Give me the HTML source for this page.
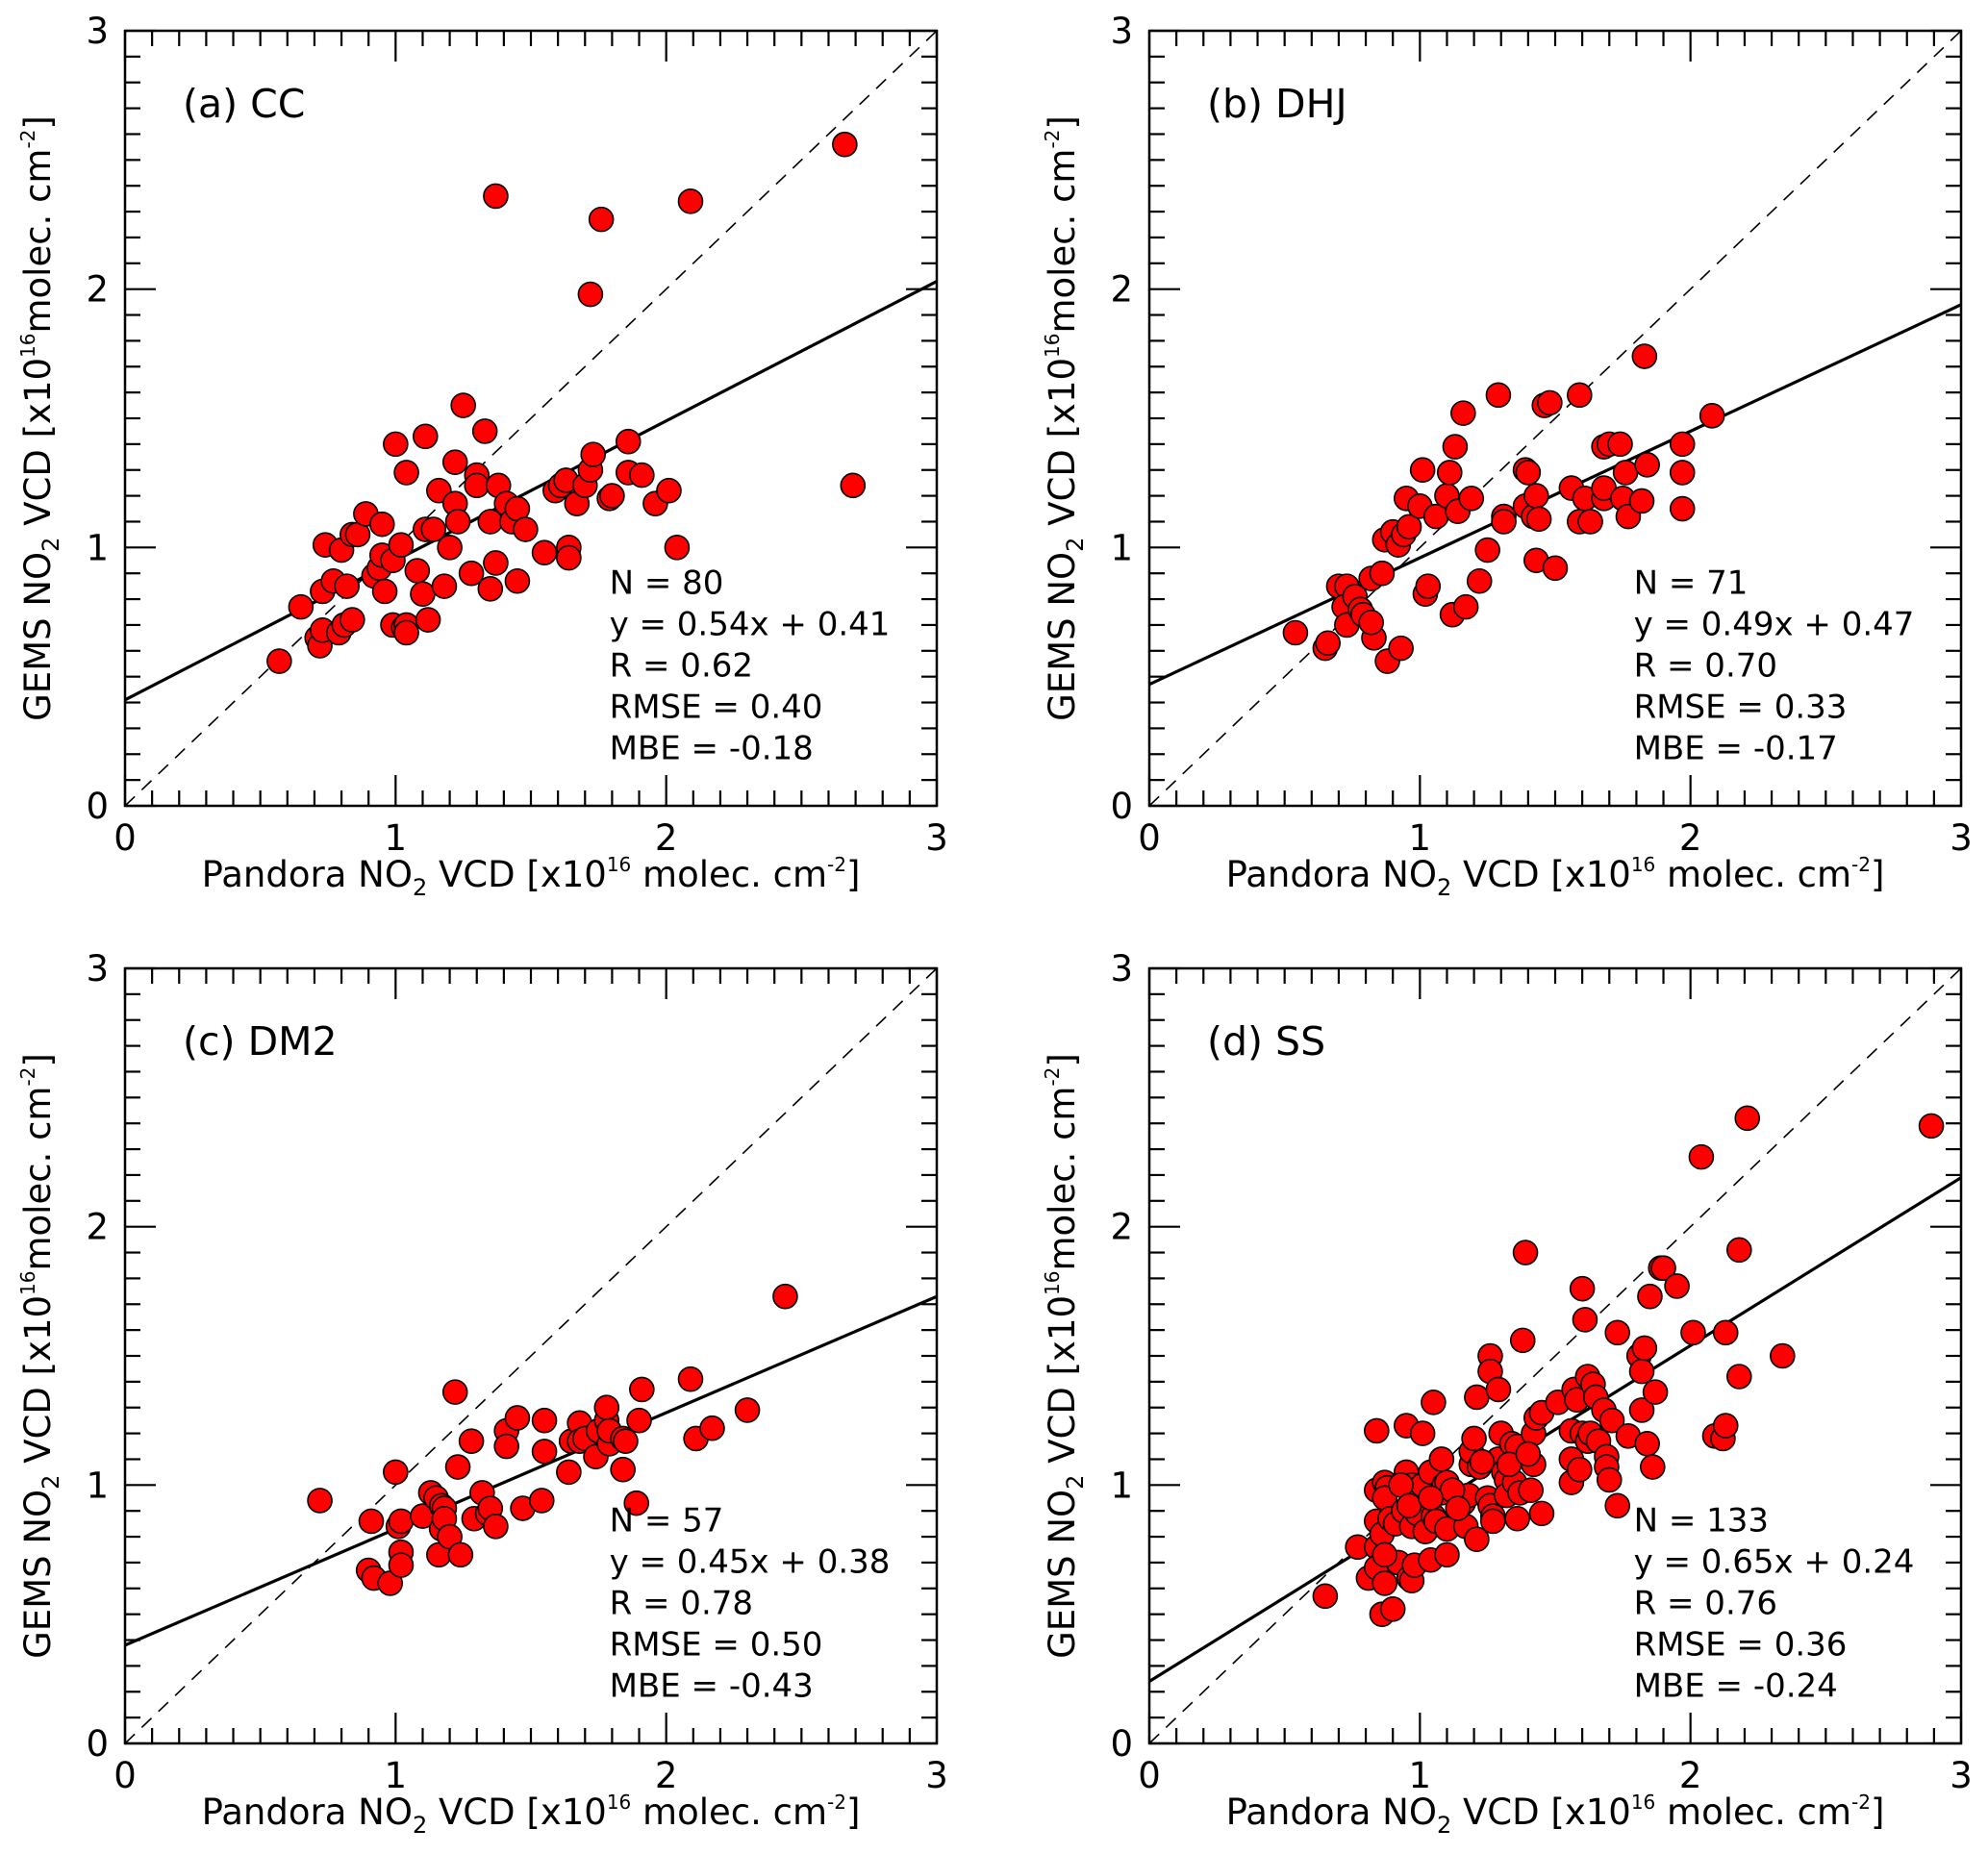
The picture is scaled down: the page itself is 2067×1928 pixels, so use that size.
<!DOCTYPE html>
<html><head><meta charset="utf-8">
<style>
html,body{margin:0;padding:0;background:#fff;}
svg{display:block;font-family:"DejaVu Sans","Liberation Sans",sans-serif;}
</style></head>
<body>
<svg id="fig" width="2067" height="1928" viewBox="0 0 2067 1928" xmlns="http://www.w3.org/2000/svg"></svg>
<script>
// Panel (a) CC
const ccX=[0.57,0.65,0.71,0.72,0.73,0.74,0.73,0.77,0.79,0.80,0.82,0.81,0.84,0.84,0.86,0.89,0.92,0.94,0.95,0.96,0.95,0.99,1.00,0.99,1.02,1.04,1.03,1.04,1.04,1.08,1.11,1.10,1.12,1.11,1.14,1.16,1.18,1.20,1.22,1.22,1.23,1.25,1.28,1.30,1.30,1.33,1.35,1.35,1.37,1.37,1.38,1.41,1.43,1.45,1.45,1.48,1.55,1.59,1.61,1.63,1.64,1.64,1.67,1.70,1.72,1.72,1.73,1.76,1.79,1.80,1.86,1.86,1.91,1.96,2.01,2.04,2.09,2.66,2.69];
const ccY=[0.56,0.77,0.65,0.62,0.68,1.01,0.83,0.87,0.67,0.99,0.85,0.70,0.72,1.05,1.05,1.13,0.89,0.92,1.09,0.83,0.97,0.95,1.40,0.70,1.01,1.29,0.69,0.70,0.67,0.91,1.43,0.82,0.72,1.07,1.07,1.22,0.85,1.00,1.17,1.33,1.10,1.55,0.90,1.28,1.24,1.45,0.84,1.10,0.94,2.36,1.24,1.17,1.10,0.87,1.15,1.07,0.98,1.22,1.24,1.26,1.00,0.96,1.17,1.24,1.98,1.30,1.36,2.27,1.19,1.20,1.41,1.29,1.28,1.17,1.22,1.00,2.34,2.56,1.24];
// Panel (b) DHJ
const dhjX=[0.54,0.65,0.66,0.70,0.73,0.72,0.73,0.76,0.78,0.79,0.82,0.83,0.82,0.86,0.87,0.88,0.90,0.92,0.93,0.94,0.95,0.96,1.00,1.01,1.02,1.03,1.06,1.10,1.11,1.12,1.13,1.14,1.16,1.17,1.19,1.22,1.25,1.29,1.31,1.31,1.39,1.39,1.40,1.42,1.43,1.43,1.44,1.46,1.48,1.50,1.56,1.59,1.59,1.61,1.63,1.68,1.68,1.68,1.70,1.74,1.75,1.76,1.77,1.82,1.83,1.84,1.97,1.97,1.97,2.08];
const dhjY=[0.67,0.61,0.63,0.85,0.85,0.77,0.70,0.81,0.76,0.74,0.88,0.65,0.71,0.90,1.03,0.56,1.06,1.01,0.61,1.05,1.19,1.08,1.16,1.30,0.82,0.85,1.12,1.20,1.29,0.74,1.39,1.14,1.52,0.77,1.19,0.87,0.99,1.59,1.12,1.10,1.30,1.16,1.29,1.12,0.95,1.20,1.11,1.55,1.56,0.92,1.23,1.59,1.10,1.19,1.10,1.19,1.39,1.23,1.40,1.40,1.19,1.29,1.12,1.18,1.74,1.32,1.40,1.29,1.15,1.51];
// Panel (c) DM2
const dm2X=[0.72,0.91,0.90,0.92,0.98,1.00,1.01,1.02,1.02,1.02,1.10,1.13,1.15,1.16,1.17,1.17,1.18,1.18,1.20,1.22,1.23,1.24,1.28,1.29,1.32,1.34,1.35,1.37,1.41,1.41,1.45,1.47,1.55,1.55,1.54,1.64,1.65,1.68,1.68,1.70,1.74,1.75,1.78,1.78,1.79,1.79,1.84,1.84,1.85,1.89,1.90,1.91,2.09,2.11,2.17,2.30,2.44];
const dm2Y=[0.94,0.86,0.67,0.64,0.62,1.05,0.84,0.86,0.74,0.69,0.88,0.97,0.95,0.73,0.83,0.92,0.91,0.87,0.80,1.36,1.07,0.73,1.17,0.87,0.97,0.89,0.91,0.84,1.21,1.15,1.26,0.91,1.25,1.13,0.94,1.05,1.17,1.24,1.17,1.18,1.11,1.21,1.25,1.30,1.16,1.21,1.06,1.18,1.17,0.93,1.25,1.37,1.41,1.18,1.22,1.29,1.73];
// Panel (d) SS
const ssX=[0.65,0.77,0.84,0.81,0.84,0.86,0.87,0.90,0.92,0.96,0.97,0.98,1.04,1.10,0.84,0.95,1.01,1.05,0.84,0.87,0.88,0.87,0.84,0.86,0.87,0.89,0.91,0.94,0.95,0.97,0.97,0.99,1.00,1.01,1.02,1.04,1.05,1.06,1.08,1.08,1.09,1.10,1.10,1.16,1.17,1.18,1.19,1.19,1.20,1.21,1.21,1.22,1.25,1.26,1.27,1.27,1.26,1.26,1.29,1.29,1.30,1.31,1.32,1.32,1.34,1.35,1.36,1.36,1.37,1.38,1.39,1.41,1.42,1.42,1.43,1.45,1.45,1.51,1.56,1.56,1.56,1.57,1.58,1.59,1.60,1.60,1.61,1.62,1.62,1.63,1.64,1.65,1.66,1.68,1.69,1.69,1.70,1.71,1.73,1.73,1.77,1.81,1.82,1.82,1.83,1.84,1.85,1.86,1.87,1.89,1.90,1.95,2.01,2.04,2.09,2.12,2.13,2.13,2.18,2.18,2.21,2.34,2.89,0.93,1.12,1.14,1.23,1.33,1.40,0.96,1.04];
const ssY=[0.57,0.76,0.76,0.64,0.68,0.50,0.62,0.52,0.70,0.64,0.63,0.69,0.71,0.73,1.21,1.23,1.20,1.32,0.98,1.01,0.99,0.95,0.86,0.81,0.73,0.87,0.85,0.90,1.05,1.00,0.84,0.89,0.96,1.00,0.82,1.05,0.88,0.86,1.10,0.97,1.00,1.01,0.83,0.93,0.84,0.96,1.08,1.13,1.18,0.79,1.34,1.07,0.95,0.92,0.88,0.86,1.50,1.44,1.37,1.10,1.20,1.05,1.02,0.96,1.16,1.01,0.87,1.15,0.97,1.56,1.90,0.98,1.08,1.20,1.26,1.28,0.89,1.32,1.01,1.10,1.21,1.37,1.33,1.06,1.20,1.76,1.64,1.17,1.42,1.20,1.39,1.34,1.17,1.29,1.11,1.07,1.02,1.25,0.92,1.59,1.19,1.50,1.29,1.44,1.53,1.16,1.73,1.07,1.36,1.84,1.84,1.77,1.59,2.27,1.19,1.18,1.59,1.23,1.42,1.91,2.42,1.50,2.39,1.00,0.98,0.91,1.09,1.08,1.12,0.92,0.95];

const panels=[
 {id:'cc',label:'(a) CC',x:130,y:32,xs:ccX,ys:ccY,stats:['N = 80','y = 0.54x + 0.41','R = 0.62','RMSE = 0.40','MBE = -0.18'],slope:0.54,icpt:0.41},
 {id:'dhj',label:'(b) DHJ',x:1195,y:32,xs:dhjX,ys:dhjY,stats:['N = 71','y = 0.49x + 0.47','R = 0.70','RMSE = 0.33','MBE = -0.17'],slope:0.49,icpt:0.47},
 {id:'dm2',label:'(c) DM2',x:130,y:1007,xs:dm2X,ys:dm2Y,stats:['N = 57','y = 0.45x + 0.38','R = 0.78','RMSE = 0.50','MBE = -0.43'],slope:0.45,icpt:0.38},
 {id:'ss',label:'(d) SS',x:1195,y:1007,xs:ssX,ys:ssY,stats:['N = 133','y = 0.65x + 0.24','R = 0.76','RMSE = 0.36','MBE = -0.24'],slope:0.65,icpt:0.24}
];
const W=844,H=806,NS='http://www.w3.org/2000/svg';
const svg=document.getElementById('fig');
function mk(tag,attrs,parent){const e=document.createElementNS(NS,tag);for(const k in attrs)e.setAttribute(k,attrs[k]);parent.appendChild(e);return e;}

panels.forEach(p=>{
  const sx=v=>p.x+v/3*W, sy=v=>p.y+H-v/3*H;
  const g=mk('g',{},svg);
  
  
  const cid='clip-'+p.id;
  const cp=mk('clipPath',{id:cid},g);mk('rect',{x:p.x,y:p.y,width:W,height:H},cp);
  const d=mk('line',{x1:sx(0),y1:sy(0),x2:sx(3),y2:sy(3),stroke:'#000','stroke-width':1.6,'stroke-dasharray':'14,10','clip-path':`url(#${cid})`},g);
  
  
  const r=mk('line',{x1:sx(0),y1:sy(p.icpt),x2:sx(3),y2:sy(p.icpt+3*p.slope),stroke:'#000','stroke-width':3.2,'clip-path':`url(#${cid})`},g);
  
  
  const pg=mk('g',{'clip-path':`url(#${cid})`},g);
  p.xs.forEach((xv,i)=>{
    const c=mk('circle',{cx:sx(xv),cy:sy(p.ys[i]),r:12.5,fill:'#ff0000',stroke:'#000','stroke-width':1.6},pg);
    
    
  });
  const fr=mk('rect',{x:p.x,y:p.y,width:W,height:H,fill:'none',stroke:'#000','stroke-width':2.5},g);
  
  
  for(let i=0;i<=30;i++){
    const v=i/10, L=(i%10===0)?32:16;
    const X=sx(v),Y=sy(v);
    mk('line',{x1:X,y1:p.y+H,x2:X,y2:p.y+H-L,stroke:'#000','stroke-width':2.2},g);
    mk('line',{x1:X,y1:p.y,x2:X,y2:p.y+L,stroke:'#000','stroke-width':2.2},g);
    mk('line',{x1:p.x,y1:Y,x2:p.x+L,y2:Y,stroke:'#000','stroke-width':2.2},g);
    mk('line',{x1:p.x+W,y1:Y,x2:p.x+W-L,y2:Y,stroke:'#000','stroke-width':2.2},g);
  }
  for(let t=0;t<=3;t++){
    const xl=mk('text',{x:sx(t),y:p.y+H+46,'text-anchor':'middle','font-size':37},g);xl.textContent=t;
    
    
    const yl=mk('text',{x:p.x-17,y:sy(t)+13,'text-anchor':'end','font-size':37},g);yl.textContent=t;
    
    
  }
  const lb=mk('text',{x:p.x+60,y:p.y+90,'font-size':41},g);lb.textContent=p.label;
  
  
  p.stats.forEach((s,i)=>{
    const t=mk('text',{x:sx(1.79),y:sy(0.82)+i*43,'font-size':34},g);t.textContent=s;
    
    
  });
  const xt=mk('text',{x:p.x+W/2,y:p.y+H+84,'text-anchor':'middle','font-size':37},g);
  xt.innerHTML='Pandora NO<tspan font-size="24" dy="9">2</tspan><tspan dy="-9"> VCD [x10</tspan><tspan font-size="20" dy="-16">16</tspan><tspan dy="16"> molec. cm</tspan><tspan font-size="20" dy="-16">-2</tspan><tspan dy="16">]</tspan>';
  
  
  const yt=mk('text',{x:0,y:0,'text-anchor':'middle','font-size':37,transform:`translate(${p.x-78},${p.y+H/2}) rotate(-90)`},g);
  yt.innerHTML='GEMS NO<tspan font-size="24" dy="9">2</tspan><tspan dy="-9"> VCD [x10</tspan><tspan font-size="20" dy="-16">16</tspan><tspan dy="16">molec. cm</tspan><tspan font-size="20" dy="-16">-2</tspan><tspan dy="16">]</tspan>';
  
  
});
</script>
</body></html>
